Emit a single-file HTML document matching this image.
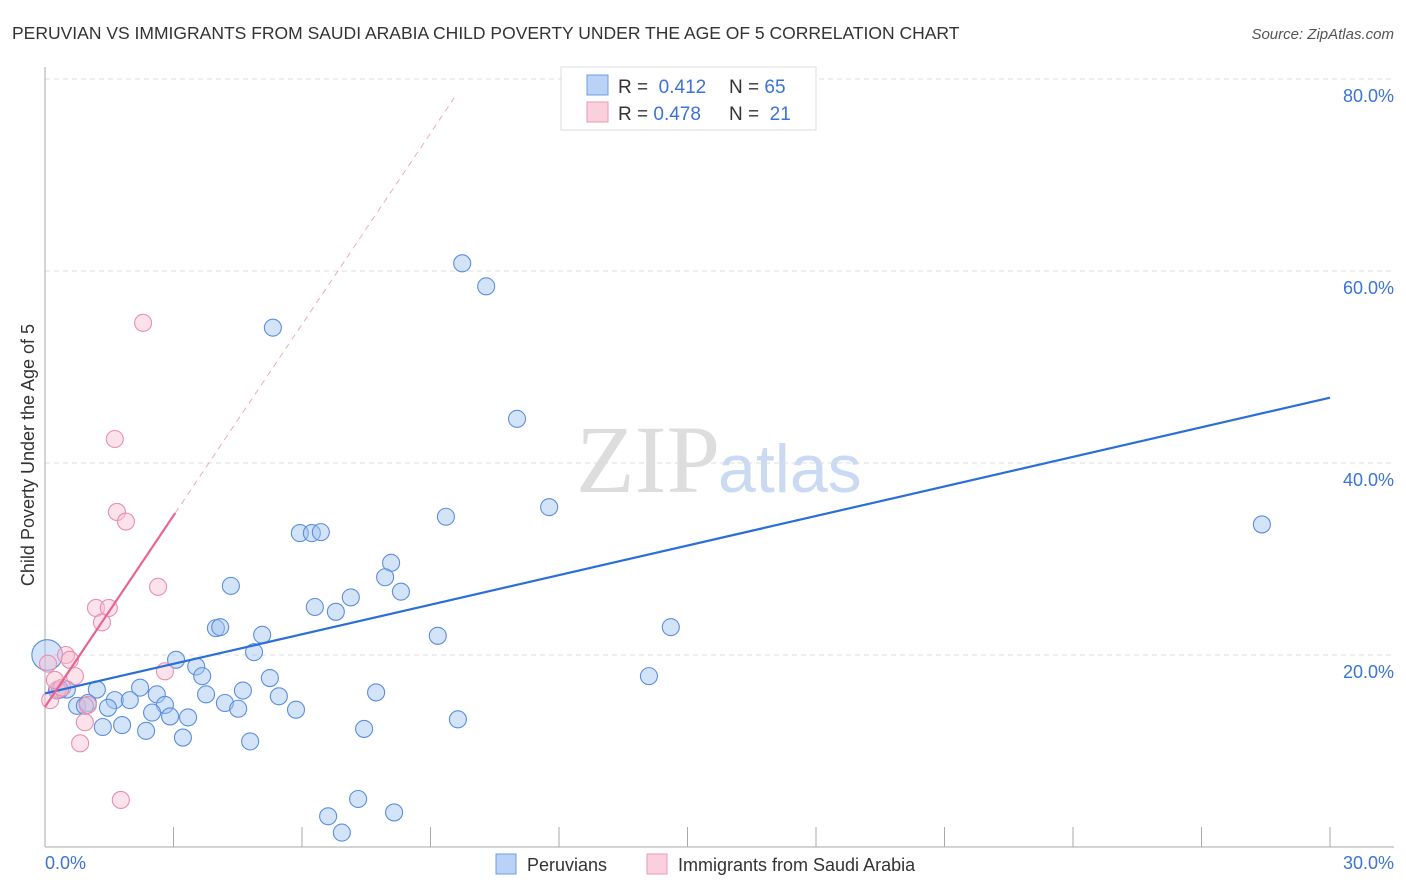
<!DOCTYPE html>
<html><head><meta charset="utf-8"><style>
body{margin:0;background:#fff;font-family:"Liberation Sans",sans-serif;}
svg{display:block}
</style></head><body>
<svg id="chart" width="1406" height="892" xmlns="http://www.w3.org/2000/svg">
<text x="12" y="39" font-size="17.5" fill="#333">PERUVIAN VS IMMIGRANTS FROM SAUDI ARABIA CHILD POVERTY UNDER THE AGE OF 5 CORRELATION CHART</text>
<text x="1394" y="39" font-size="15" fill="#555" font-style="italic" text-anchor="end">Source: ZipAtlas.com</text>
<text x="720" y="492" font-size="96" fill="#ddd" font-family="Liberation Serif,serif" text-anchor="end">ZIP</text>
<text x="718" y="492" font-size="68" fill="#c9daf2">atlas</text>
<g id="grid"></g><g id="axes"></g><g id="pts"></g><g id="lines"></g>
<text transform="translate(34,455) rotate(-90)" font-size="18" fill="#333" text-anchor="middle">Child Poverty Under the Age of 5</text>
<text x="45" y="869" font-size="18" fill="#3b73d6">0.0%</text>
<text x="1394" y="869" font-size="18" fill="#3b73d6" text-anchor="end">30.0%</text>
<g>
<rect x="496" y="854" width="20" height="20" fill="#b9d2f5" stroke="#6d9ee6"/>
<text x="527" y="871" font-size="18" fill="#333">Peruvians</text>
<rect x="647" y="854" width="20" height="20" fill="#fbcfdc" stroke="#ee9ab5"/>
<text x="678" y="871" font-size="18" fill="#333">Immigrants from Saudi Arabia</text>
</g>
<g>
<rect x="561" y="67" width="255" height="63" fill="#fff" stroke="#ddd"/>
<rect x="587" y="75" width="21" height="20" fill="#b9d2f5" stroke="#6d9ee6"/>
<rect x="587" y="102" width="21" height="20" fill="#fbcfdc" stroke="#ee9ab5"/>
<text x="618" y="93" font-size="19" fill="#333">R = <tspan fill="#3b73d6">&#160;0.412</tspan></text>
<text x="729" y="93" font-size="19" fill="#333">N = <tspan fill="#3b73d6">65</tspan></text>
<text x="618" y="120" font-size="19" fill="#333">R = <tspan fill="#3b73d6">0.478</tspan></text>
<text x="729" y="120" font-size="19" fill="#333">N = <tspan fill="#3b73d6">&#160;21</tspan></text>
</g>
</svg>
<script>
const yTicks=[20,40,60,80];
const yTickLabels=["20.0%","40.0%","60.0%","80.0%"];
const xTicks=[0,3,6,9,12,15,18,21,24,27,30];
const blueX=[9.74,10.30,5.32,11.02,11.77,9.36,28.41,5.95,6.23,6.44,8.08,7.94,4.34,8.31,7.14,6.30,6.79,3.99,4.09,5.07,9.17,14.61,4.88,3.06,3.53,3.67,5.25,14.10,7.73,4.62,3.76,5.46,2.22,1.21,0.51,0.28,2.61,1.63,1.98,4.20,2.80,4.51,5.86,1.47,0.75,1.00,2.50,2.92,3.34,9.64,1.35,1.80,2.36,7.45,3.22,4.79,7.31,6.61,8.15,6.93,0.35,0.93,0.05];
const blueY=[60.8,58.4,54.1,44.6,35.4,34.4,33.6,32.7,32.7,32.8,29.6,28.1,27.2,26.6,26.0,25.0,24.5,22.8,22.9,22.1,22.0,22.9,20.3,19.5,18.8,17.8,17.6,17.8,16.1,16.3,15.9,15.7,16.6,16.4,16.4,16.3,15.9,15.3,15.3,15.0,14.8,14.4,14.3,14.5,14.7,15.0,14.0,13.6,13.5,13.3,12.5,12.7,12.1,12.3,11.4,11.0,5.0,3.2,3.6,1.5,16.4,14.7,20.0];
const blueSize=[1,1,1,1,1,1,1,1,1,1,1,1,1,1,1,1,1,1,1,1,1,1,1,1,1,1,1,1,1,1,1,1,1,1,1,1,1,1,1,1,1,1,1,1,1,1,1,1,1,1,1,1,1,1,1,1,1,1,1,1,1,1,1.8];
const pinkX=[2.29,1.63,1.68,1.89,2.64,1.19,1.49,1.33,0.49,0.58,0.07,0.70,2.80,1.00,0.93,0.82,1.77,0.30,0.40,0.23,0.12];
const pinkY=[54.6,42.5,34.9,33.9,27.1,24.9,24.9,23.4,20.0,19.5,19.1,17.8,18.3,14.8,13.0,10.8,4.9,16.4,16.6,17.4,15.3];
const blueTrend=[16.0,46.8]; // y at x=0 and x=30
const pinkTrend=[14.6,6.64]; // intercept, slope
const pinkSolidEnd=3.04, pinkDashEnd=9.55;

const NS="http://www.w3.org/2000/svg";
const X=v=>45+v/30*1285;
const Y=v=>847-v/20*192;
function mk(tag,attrs,parent){const e=document.createElementNS(NS,tag);for(const k in attrs)e.setAttribute(k,attrs[k]);document.getElementById(parent).appendChild(e);return e;}
yTicks.forEach((t,i)=>{
 const g=mk('line',{x1:45,x2:1394,y1:Y(t),y2:Y(t),stroke:'#ddd','stroke-dasharray':'5,4'},'grid');
 
 
 const l=mk('text',{x:1394,y:Y(t)+23,'font-size':18,fill:'#3b73d6','text-anchor':'end'},'grid');
 l.textContent=yTickLabels[i];
 
 
});
const ya=mk('line',{x1:45,x2:45,y1:67,y2:847,stroke:'#aaa'},'axes');


const xa=mk('line',{x1:45,x2:1394,y1:847,y2:847,stroke:'#aaa'},'axes');


xTicks.forEach(t=>{
 const k=mk('line',{x1:X(t),x2:X(t),y1:827,y2:847,stroke:'#aaa'},'axes');
 
 
});
blueX.forEach((v,i)=>{
 const c=mk('circle',{cx:X(v),cy:Y(blueY[i]),r:8.5*blueSize[i],fill:'rgba(160,196,240,0.45)',stroke:'#5b8ee0','stroke-width':1.1},'pts');
 
 
});
pinkX.forEach((v,i)=>{
 const c=mk('circle',{cx:X(v),cy:Y(pinkY[i]),r:8.5,fill:'rgba(248,190,208,0.45)',stroke:'#ea8fae','stroke-width':1.1},'pts');
 
 
});
const bt=mk('line',{x1:X(0),y1:Y(blueTrend[0]),x2:X(30),y2:Y(blueTrend[1]),stroke:'#2a6fd8','stroke-width':2.2},'lines');


const pd=mk('line',{x1:X(pinkSolidEnd),y1:Y(pinkTrend[0]+pinkTrend[1]*pinkSolidEnd),x2:X(pinkDashEnd),y2:Y(pinkTrend[0]+pinkTrend[1]*pinkDashEnd),stroke:'#f0a8c0','stroke-width':1,'stroke-dasharray':'6,5'},'lines');


const ps=mk('line',{x1:X(0),y1:Y(pinkTrend[0]),x2:X(pinkSolidEnd),y2:Y(pinkTrend[0]+pinkTrend[1]*pinkSolidEnd),stroke:'#e8648e','stroke-width':2.2},'lines');


</script>
</body></html>
